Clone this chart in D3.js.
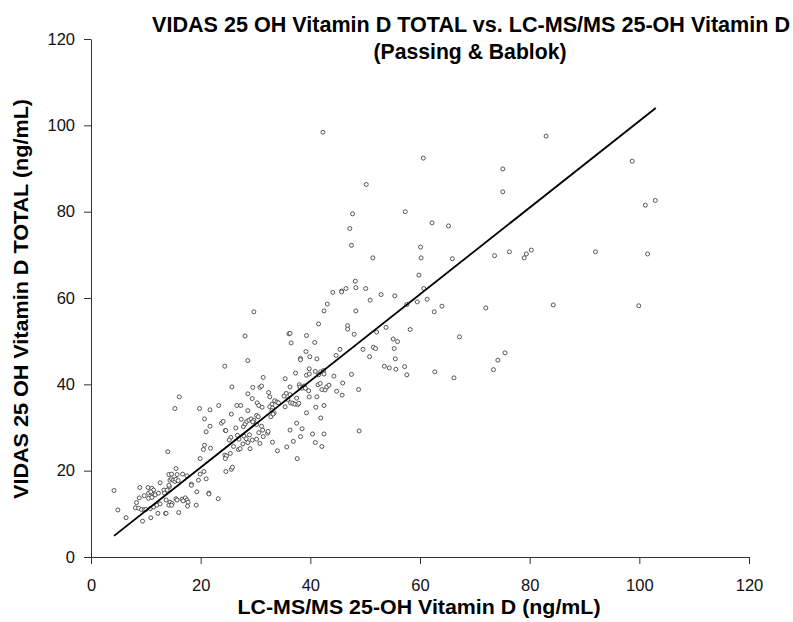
<!DOCTYPE html>
<html lang="en">
<head>
<meta charset="UTF-8">
<title>VIDAS vs LC-MS/MS</title>
<style>
  body { margin: 0; background: #fff; }
  text { font-family: "Liberation Sans", Arial, sans-serif; }
</style>
</head>
<body>
<svg width="793" height="622"></svg>
<script src="https://d3js.org/d3.v7.min.js"></script>
<script>
// LC-MS/MS values (x) and VIDAS values (y)
var lcms = [
  16.1,15.3,14.0,4.2,4.9,6.4,9.4,10.9,8.9,8.8,9.7,10.4,11.1,11.4,10.5,11.1,10.9,8.3,8.1,8.7,9.2,9.7,10.5,11.1,11.7,12.3,
  10.0,10.8,11.4,12.0,12.6,12.6,13.3,12.2,13.6,13.4,13.9,14.3,14.2,14.4,14.7,14.2,14.7,15.5,15.0,15.3,13.7,14.4,14.8,14.2,
  14.7,15.5,15.7,16.6,17.2,17.5,16.8,17.7,17.6,16.0,13.7,15.7,16.7,17.5,15.5,15.9,18.3,18.3,19.6,19.2,19.3,21.0,21.5,21.5,
  23.2,20.6,24.6,25.6,25.8,19.9,
  29.7,28.1,28.6,24.4,25.7,19.8,21.7,23.3,20.7,25.6,26.6,27.3,21.7,21.0,23.8,24.1,24.5,27.4,27.8,28.1,28.4,28.8,29.2,29.7,
  29.5,28.6,29.5,30.8,31.1,31.4,32.4,28.6,29.4,30.3,30.6,31.2,30.2,30.5,32.6,33.0,33.5,33.9,34.2,32.6,33.1,33.0,33.4,32.8,
  33.2,35.4,35.9,36.4,36.8,37.2,37.7,37.9,37.5,35.2,35.6,36.3,35.4,36.3,37.3,38.0,38.1,38.5,38.9,39.1,38.2,38.2,39.3,39.8,
  39.8,40.9,41.9,42.4,42.5,41.5,41.4,41.8,42.1,42.7,43.0,43.4,44.8,44.3,44.7,39.7,39.8,41.2,39.3,41.0,42.5,36.3,36.9,38.2,
  37.5,38.5,40.4,42.5,40.9,41.9,42.1,37.6,34.0,33.1,35.7,31.4,32.2,32.3,31.3,30.6,30.8,30.2,29.4,28.9,27.9,28.3,28.6,26.4,
  25.5,26.7,27.0,26.0,26.9,27.2,27.7,25.2,24.6,20.5,20.7,21.8,19.9,24.4,24.7,24.5,25.4,29.0,30.2,31.1,39.9,41.2,
  50.2,47.7,47.2,47.5,51.4,48.2,48.3,46.5,45.7,45.7,44.1,50.1,50.9,52.9,55.4,43.1,42.5,48.3,41.5,46.8,46.8,48.0,52.1,53.8,
  36.1,36.3,36.5,39.3,40.8,39.2,45.4,49.6,51.5,51.9,55.1,55.9,55.3,42.3,
  83.0,60.6,75.1,75.1,98.7,57.3,62.2,65.2,101.1,102.9,60.1,60.2,65.9,59.8,73.6,76.3,79.4,79.0,80.3,92.0,101.5,60.7,61.3,
  59.5,57.6,64.0,62.6,72.0,84.3,99.9,58.2,67.2,57.2,57.6,62.7,66.2,73.4,74.2,75.5,
  50.8,55.5,53.5,54.4,55.6,47.5,45.9,48.8,45.8,48.9
];
var vidas = [
  37.1,34.4,24.4,15.4,10.9,9.1,8.3,9.1,16.1,13.7,14.2,16.1,15.9,15.5,14.8,14.8,15.1,12.6,11.4,11.3,11.0,11.0,13.6,13.8,14.4,14.8,
  11.0,11.2,11.6,12.0,12.3,17.2,15.5,10.1,10.1,14.8,15.5,16.3,16.6,17.8,18.1,19.1,19.2,20.5,17.8,17.5,13.2,12.7,12.4,12.0,
  12.0,13.5,13.2,13.4,13.7,13.2,13.0,12.7,11.8,10.3,10.1,19.1,19.2,18.8,18.0,17.7,16.9,16.6,17.8,12.0,15.1,18.1,14.8,14.6,
  13.5,19.8,19.8,20.3,20.8,19.2,
  56.8,51.2,45.5,44.2,39.4,34.4,34.1,35.1,32.0,33.1,35.1,35.1,30.3,29.0,31.0,31.4,29.3,31.9,30.2,30.8,31.4,31.7,32.0,31.7,
  31.3,33.9,39.3,39.3,39.6,41.6,38.1,37.8,36.7,35.7,35.1,34.7,32.8,32.5,37.1,35.4,36.2,35.9,35.7,34.8,34.5,33.9,33.4,32.5,
  33.1,34.8,36.5,35.7,35.6,35.4,35.3,35.6,36.8,37.3,37.9,37.6,41.3,39.4,42.6,39.9,39.4,39.1,39.6,39.1,46.0,45.7,42.1,42.4,
  43.6,43.0,42.9,43.2,42.4,42.2,39.9,40.2,38.8,38.7,39.4,39.8,38.4,41.9,46.7,38.5,37.1,37.1,33.4,34.7,35.1,29.4,26.8,27.9,
  31.0,29.7,28.5,28.5,26.5,32.2,25.6,22.8,24.6,26.6,25.5,27.9,28.7,29.1,29.4,28.8,26.3,27.3,27.1,28.3,28.0,27.4,26.5,29.9,
  27.7,28.2,27.3,25.6,24.9,25.1,26.2,27.1,29.3,24.9,25.9,25.2,22.8,23.6,23.4,22.8,24.0,25.1,30.7,30.3,46.4,45.9,
  86.3,79.5,76.1,72.2,69.3,63.9,62.4,62.2,61.6,61.4,61.3,62.2,59.5,60.8,60.5,58.6,57.0,57.0,54.0,53.6,52.8,51.6,52.1,53.2,
  51.7,51.8,49.6,51.3,49.7,47.6,48.1,48.1,48.6,48.3,50.5,49.9,48.3,98.4,
  97.5,92.4,89.9,84.6,91.7,80.0,77.4,76.7,81.5,82.6,71.8,69.3,69.1,65.3,69.8,70.7,70.2,69.3,71.1,70.7,70.2,62.2,59.7,
  59.1,58.5,58.1,56.8,57.7,58.4,58.2,52.7,51.0,44.1,42.2,42.9,41.5,43.4,45.6,47.3,
  46.4,45.9,44.2,43.8,43.5,42.3,40.3,38.8,37.5,29.2
];

// Passing & Bablok fit line end points
var fitX = [4.2, 103.0];
var fitY = [4.9, 104.0];

var tickVals = [0, 20, 40, 60, 80, 100, 120];

var svg = d3.select("svg");

var x = d3.scaleLinear().domain([0, 120]).range([91, 749]);
var y = d3.scaleLinear().domain([0, 120]).range([557, 39]);

// axes
var xAxis = svg.append("g")
  .attr("transform", "translate(0,557)")
  .call(d3.axisBottom(x).tickValues(tickVals).tickSize(7).tickSizeOuter(0).tickPadding(15));
var yAxis = svg.append("g")
  .attr("transform", "translate(91,0)")
  .call(d3.axisLeft(y).tickValues(tickVals).tickSize(7).tickSizeOuter(0).tickPadding(9));

[xAxis, yAxis].forEach(function(g) {
  g.select(".domain").attr("stroke", "#333");
  g.selectAll(".tick line").attr("stroke", "#333");
  g.selectAll(".tick text")
    .attr("fill", "#111")
    .style("font-size", "16.5px")
    .style("font-family", "'Liberation Sans', Arial, sans-serif");
});

// points
var pts = lcms.map(function(v, i) { return [v, vidas[i]]; });
svg.append("g")
  .selectAll("circle")
  .data(pts)
  .enter().append("circle")
  .attr("cx", d => x(d[0]))
  .attr("cy", d => y(d[1]))
  .attr("r", 2)
  .attr("fill", "#fff")
  .attr("stroke", "#444")
  .attr("stroke-width", 0.9);

// regression line
var line = d3.line().x(d => x(d[0])).y(d => y(d[1]));
svg.append("path")
  .datum(fitX.map((v, i) => [v, fitY[i]]))
  .attr("d", line)
  .attr("fill", "none")
  .attr("stroke", "#000")
  .attr("stroke-width", 1.8);

// titles
svg.append("text")
  .attr("x", 471).attr("y", 32)
  .attr("text-anchor", "middle")
  .attr("textLength", 638).attr("lengthAdjust", "spacingAndGlyphs")
  .style("font-size", "21.5px").style("font-weight", "bold")
  .text("VIDAS 25 OH Vitamin D TOTAL vs. LC-MS/MS 25-OH Vitamin D");
svg.append("text")
  .attr("x", 470).attr("y", 59)
  .attr("text-anchor", "middle")
  .attr("textLength", 193).attr("lengthAdjust", "spacingAndGlyphs")
  .style("font-size", "21.5px").style("font-weight", "bold")
  .text("(Passing & Bablok)");

svg.append("text")
  .attr("x", 419).attr("y", 614)
  .attr("text-anchor", "middle")
  .attr("textLength", 363).attr("lengthAdjust", "spacingAndGlyphs")
  .style("font-size", "21px").style("font-weight", "bold")
  .text("LC-MS/MS 25-OH Vitamin D (ng/mL)");

svg.append("text")
  .attr("transform", "translate(28,299) rotate(-90)")
  .attr("text-anchor", "middle")
  .attr("textLength", 400).attr("lengthAdjust", "spacingAndGlyphs")
  .style("font-size", "21px").style("font-weight", "bold")
  .text("VIDAS 25 OH Vitamin D TOTAL (ng/mL)");
</script>
</body>
</html>
